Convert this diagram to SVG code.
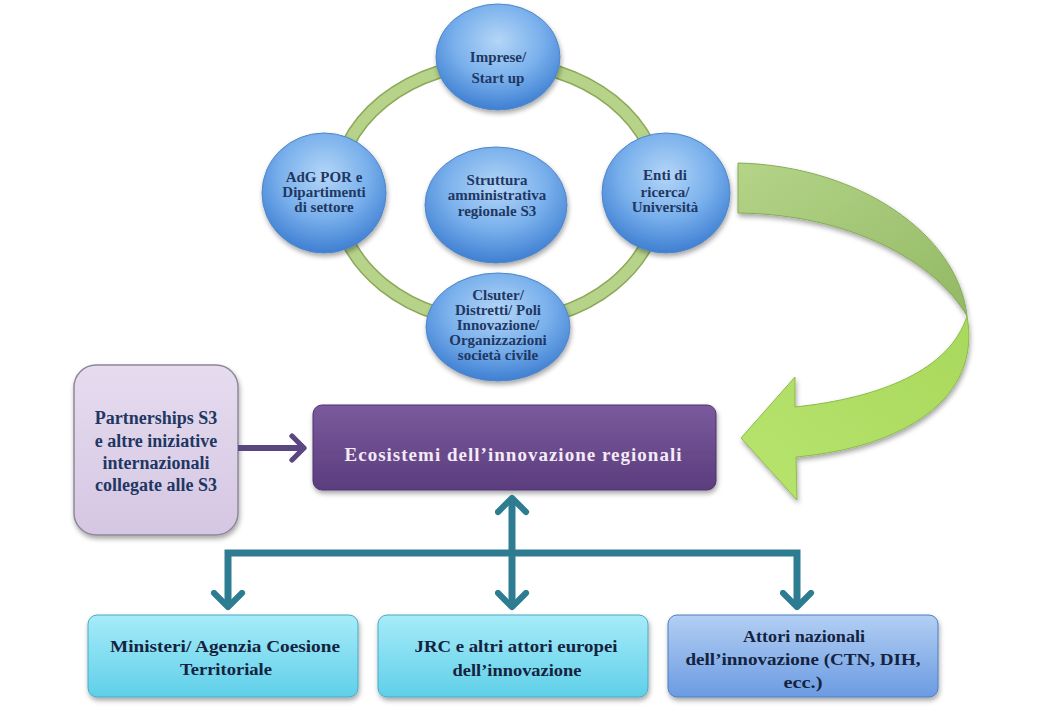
<svg xmlns="http://www.w3.org/2000/svg" width="1045" height="707" viewBox="0 0 1045 707">
  <defs>
    <radialGradient id="blueBall" cx="50%" cy="35%" r="65%">
      <stop offset="0" stop-color="#b4d6f7"/>
      <stop offset="0.55" stop-color="#79b0ec"/>
      <stop offset="1" stop-color="#3f7fd2"/>
    </radialGradient>
    <linearGradient id="purpleBox" x1="0" y1="0" x2="0" y2="1">
      <stop offset="0" stop-color="#7a5a9c"/>
      <stop offset="1" stop-color="#5b3d7e"/>
    </linearGradient>
    <linearGradient id="lavBox" x1="0" y1="0" x2="0" y2="1">
      <stop offset="0" stop-color="#e6dcef"/>
      <stop offset="1" stop-color="#d5c6e3"/>
    </linearGradient>
    <linearGradient id="cyanBox" x1="0" y1="0" x2="0" y2="1">
      <stop offset="0" stop-color="#a6ecf8"/>
      <stop offset="1" stop-color="#5fcfe9"/>
    </linearGradient>
    <linearGradient id="skyBox" x1="0" y1="0" x2="0" y2="1">
      <stop offset="0" stop-color="#b3cff3"/>
      <stop offset="1" stop-color="#6b9be2"/>
    </linearGradient>
    <linearGradient id="bandTop" x1="0" y1="0" x2="1" y2="1">
      <stop offset="0" stop-color="#b4d488"/>
      <stop offset="1" stop-color="#92b964"/>
    </linearGradient>
    <linearGradient id="bandLow" x1="1" y1="0" x2="0" y2="1">
      <stop offset="0" stop-color="#a8d85c"/>
      <stop offset="1" stop-color="#b8e46e"/>
    </linearGradient>
    <filter id="shadow" x="-20%" y="-20%" width="140%" height="150%">
      <feDropShadow dx="1" dy="3" stdDeviation="2.5" flood-color="#000" flood-opacity="0.35"/>
    </filter>
    <marker id="tealHead" viewBox="0 0 20 20" refX="10" refY="10" markerWidth="5" markerHeight="5" orient="auto-start-reverse" markerUnits="strokeWidth">
      <path d="M2,2 L10,10 L2,18" fill="none" stroke="#2e7c92" stroke-width="3.5" stroke-linecap="round" stroke-linejoin="round"/>
    </marker>
    <marker id="purpleHead" viewBox="0 0 20 20" refX="10" refY="10" markerWidth="5" markerHeight="5" orient="auto" markerUnits="strokeWidth">
      <path d="M2,2 L10,10 L2,18" fill="none" stroke="#5a4680" stroke-width="3.5" stroke-linecap="round" stroke-linejoin="round"/>
    </marker>
  </defs>
  <style>
    .ball { fill: url(#blueBall); stroke: #4f86c8; stroke-width: 1; filter: url(#shadow); }
    .ballText { font-family: "Liberation Serif", serif; font-weight: bold; font-size: 15px; fill: #1f3763; text-anchor: middle; }
    .boxText { font-family: "Liberation Serif", serif; font-weight: bold; font-size: 17px; fill: #14233f; text-anchor: middle; }
    .tealLine { fill: none; stroke: #2e7c92; stroke-width: 7; }
  </style>

  <rect width="1045" height="707" fill="#ffffff"/>

  <!-- ring linking the five actors -->
  <g id="ring">
    <ellipse cx="498" cy="193" rx="162" ry="130" fill="none" stroke="#8aa95a" stroke-width="14"/>
    <ellipse cx="498" cy="193" rx="162" ry="130" fill="none" stroke="#b7d38a" stroke-width="11"/>
  </g>

  <!-- curved green arrow -->
  <g id="greenArrow" filter="url(#shadow)">
    <path d="M738,163 C860,166 958,235 967,316 C936,262 850,214 738,213 Z" fill="url(#bandTop)" stroke="#86ab55" stroke-width="1"/>
    <path d="M967,316 C982,398 905,447 796,457 L797,500 L741,438 L795,377 L795,407 C880,398 950,370 967,316 Z" fill="url(#bandLow)" stroke="#8dbb4a" stroke-width="1"/>
  </g>

  <g id="node-imprese">
    <ellipse class="ball" cx="498" cy="57" rx="62" ry="53"/>
    <text class="ballText" x="498" y="62">Imprese/</text>
    <text class="ballText" x="498" y="83">Start up</text>
  </g>
  <g id="node-adg">
    <ellipse class="ball" cx="324" cy="193" rx="62" ry="60"/>
    <text class="ballText" x="324" y="182">AdG POR e</text>
    <text class="ballText" x="324" y="197">Dipartimenti</text>
    <text class="ballText" x="324" y="212">di settore</text>
  </g>
  <g id="node-struttura">
    <ellipse class="ball" cx="496" cy="205" rx="71" ry="58"/>
    <text class="ballText" x="497" y="185">Struttura</text>
    <text class="ballText" x="497" y="200">amministrativa</text>
    <text class="ballText" x="497" y="216">regionale S3</text>
  </g>
  <g id="node-enti">
    <ellipse class="ball" cx="666" cy="193" rx="64" ry="60"/>
    <text class="ballText" x="665" y="180">Enti di</text>
    <text class="ballText" x="665" y="197">ricerca/</text>
    <text class="ballText" x="665" y="212">Università</text>
  </g>
  <g id="node-cluster">
    <ellipse class="ball" cx="498" cy="327" rx="72" ry="54"/>
    <text class="ballText" x="498" y="300">Clsuter/</text>
    <text class="ballText" x="498" y="315">Distretti/ Poli</text>
    <text class="ballText" x="498" y="330">Innovazione/</text>
    <text class="ballText" x="498" y="345">Organizzazioni</text>
    <text class="ballText" x="498" y="360">società civile</text>
  </g>

  <g id="node-partnerships">
    <rect x="74" y="365" width="164" height="170" rx="22" fill="url(#lavBox)" stroke="#8f8898" stroke-width="1.5" filter="url(#shadow)"/>
    <g font-family="Liberation Serif, serif" font-weight="bold" font-size="18" fill="#1f3763" text-anchor="middle">
      <text x="156" y="424">Partnerships S3</text>
      <text x="156" y="447">e altre iniziative</text>
      <text x="156" y="469">internazionali</text>
      <text x="156" y="491">collegate alle S3</text>
    </g>
  </g>

  <g id="node-ecosistemi">
    <rect x="313" y="405" width="403" height="85" rx="9" fill="url(#purpleBox)" stroke="#4e336e" stroke-width="1" filter="url(#shadow)"/>
    <text x="513" y="461" font-family="Liberation Serif, serif" font-weight="bold" font-size="19" fill="#f3eaf6" text-anchor="middle" textLength="337" lengthAdjust="spacing">Ecosistemi dell’innovazione regionali</text>
  </g>

  <g id="node-ministeri">
    <rect x="88" y="615" width="270" height="82" rx="9" fill="url(#cyanBox)" stroke="#4aa9c4" stroke-width="1" filter="url(#shadow)"/>
    <text class="boxText" x="225" y="652" textLength="230" lengthAdjust="spacingAndGlyphs">Ministeri/ Agenzia Coesione</text>
    <text class="boxText" x="226" y="675" textLength="92" lengthAdjust="spacingAndGlyphs">Territoriale</text>
  </g>
  <g id="node-jrc">
    <rect x="378" y="615" width="270" height="82" rx="9" fill="url(#cyanBox)" stroke="#4aa9c4" stroke-width="1" filter="url(#shadow)"/>
    <text class="boxText" x="516" y="652" textLength="203" lengthAdjust="spacingAndGlyphs">JRC e altri attori europei</text>
    <text class="boxText" x="517" y="676" textLength="129" lengthAdjust="spacingAndGlyphs">dell’innovazione</text>
  </g>
  <g id="node-attori">
    <rect x="668" y="615" width="270" height="82" rx="9" fill="url(#skyBox)" stroke="#4d7cc0" stroke-width="1" filter="url(#shadow)"/>
    <text class="boxText" x="804" y="642" textLength="122" lengthAdjust="spacingAndGlyphs">Attori nazionali</text>
    <text class="boxText" x="803" y="665" textLength="235" lengthAdjust="spacingAndGlyphs">dell’innovazione (CTN, DIH,</text>
    <text class="boxText" x="803" y="688" textLength="39" lengthAdjust="spacingAndGlyphs">ecc.)</text>
  </g>

  <g id="connectors">
    <line x1="238" y1="448" x2="304" y2="448" stroke="#5a4680" stroke-width="6" marker-end="url(#purpleHead)"/>
    <line class="tealLine" x1="512" y1="498" x2="512" y2="607" marker-start="url(#tealHead)" marker-end="url(#tealHead)"/>
    <polyline class="tealLine" points="228,607 228,553 797,553 797,607" marker-start="url(#tealHead)" marker-end="url(#tealHead)"/>
  </g>
</svg>
